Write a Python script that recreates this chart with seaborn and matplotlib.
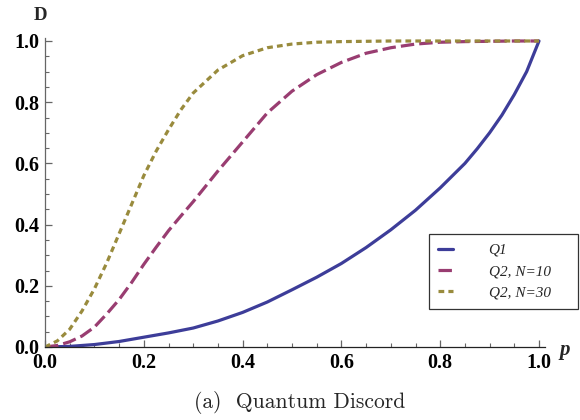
import numpy as np
import pandas as pd
import seaborn as sns
import matplotlib.pyplot as plt

# values
p_q1 = [0.0, 0.05, 0.1, 0.15, 0.2, 0.25, 0.3, 0.35, 0.4, 0.45, 0.5,
        0.55, 0.6, 0.65, 0.7, 0.75, 0.8, 0.85, 0.875, 0.9, 0.925, 0.95, 0.975, 1.0]
q1 = [0.0, 0.002, 0.008, 0.018, 0.032, 0.046, 0.062, 0.085, 0.113, 0.147, 0.187,
      0.228, 0.273, 0.325, 0.383, 0.447, 0.52, 0.6, 0.648, 0.7, 0.758, 0.825, 0.9, 1.0]
p_q2 = [0.0, 0.025, 0.05, 0.075, 0.1, 0.125, 0.15, 0.175, 0.2, 0.225, 0.25, 0.275,
        0.3, 0.35, 0.4, 0.45, 0.5, 0.55, 0.6, 0.65, 0.7, 0.75, 0.8, 0.85, 0.9, 0.95, 1.0]
q2_n10 = [0.0, 0.005, 0.017, 0.036, 0.065, 0.108, 0.155, 0.21, 0.27, 0.326, 0.38, 0.428,
          0.475, 0.575, 0.67, 0.765, 0.836, 0.89, 0.93, 0.96, 0.978, 0.99, 0.996,
          0.998, 0.999, 1.0, 1.0]
q2_n30 = [0.0, 0.02, 0.058, 0.118, 0.19, 0.275, 0.37, 0.465, 0.56, 0.64, 0.71, 0.775,
          0.83, 0.905, 0.952, 0.978, 0.99, 0.996, 0.998, 0.999, 1.0, 1.0, 1.0,
          1.0, 1.0, 1.0, 1.0]
labels = ["Q1", "Q2, N=10", "Q2, N=30"]

df = pd.concat([
    pd.DataFrame({"p": p_q1, "D": q1, "series": labels[0]}),
    pd.DataFrame({"p": p_q2, "D": q2_n10, "series": labels[1]}),
    pd.DataFrame({"p": p_q2, "D": q2_n30, "series": labels[2]}),
])

sns.set_style("ticks")
plt.rcParams["font.family"] = ["Liberation Serif", "DejaVu Serif"]

colors = {labels[0]: "#3d3d99", labels[1]: "#993d71", labels[2]: "#998b3d"}
dashes = {labels[0]: "", labels[1]: (4.2, 1.6), labels[2]: (1.8, 1.3)}

fig = plt.figure(figsize=(5.8, 4.2), dpi=100)
ax = fig.add_axes([45 / 580, 73 / 420, 494 * 1.012 / 580, 306 * 1.01 / 420])

sns.lineplot(data=df, x="p", y="D", hue="series", style="series",
             palette=colors, dashes=dashes, estimator=None, linewidth=2.3,
             ax=ax, legend=True)

ax.set_xlim(0, 1.012)
ax.set_ylim(0, 1.01)
ticks = np.arange(0, 1.01, 0.2)
ax.set_xticks(ticks)
ax.set_yticks(ticks)
ax.set_xticks(np.arange(0, 1.01, 0.05), minor=True)
ax.set_yticks(np.arange(0, 1.01, 0.05), minor=True)
ax.set_xticklabels([f"{v:.1f}" for v in ticks])
ax.set_yticklabels([f"{v:.1f}" for v in ticks])
ax.tick_params(which="both", direction="in", colors="#666666", labelcolor="black",
               labelsize=14.5)
ax.tick_params(which="major", length=5, width=0.9, pad=4)
ax.tick_params(which="minor", length=3, width=0.8)
for lab in ax.get_xticklabels() + ax.get_yticklabels():
    lab.set_fontweight("bold")

for s in ["top", "right"]:
    ax.spines[s].set_visible(False)
ax.spines["left"].set_color("#666666")
ax.spines["bottom"].set_color("#222222")
ax.spines["left"].set_linewidth(0.9)
ax.spines["bottom"].set_linewidth(0.9)
ax.set_xlabel("")
ax.set_ylabel("")

fig.text(40 / 580, 1 - 15 / 420, "D", fontsize=13.5, fontweight="bold",
         ha="center", va="center")
fig.text(565 / 580, 1 - 350 / 420, "p", fontsize=15, fontweight="bold",
         style="italic", ha="center", va="center")
fig.text(300 / 580, 1 - 403 / 420, "(a)  Quantum Discord", fontsize=15.5,
         family="cmr10", ha="center", va="center")

leg = ax.legend(loc="upper left",
                bbox_to_anchor=(429 / 580, 1 - 308 / 420, 149 / 580, 74 / 420),
                bbox_transform=fig.transFigure, mode="expand", frameon=True,
                fancybox=False, prop={"style": "italic", "size": 11},
                handlelength=1.0, handletextpad=2.3, borderpad=0.6,
                labelspacing=0.5, borderaxespad=0)
leg.get_frame().set_edgecolor("black")
leg.get_frame().set_linewidth(0.9)

fig.savefig("out.png", dpi=100)
